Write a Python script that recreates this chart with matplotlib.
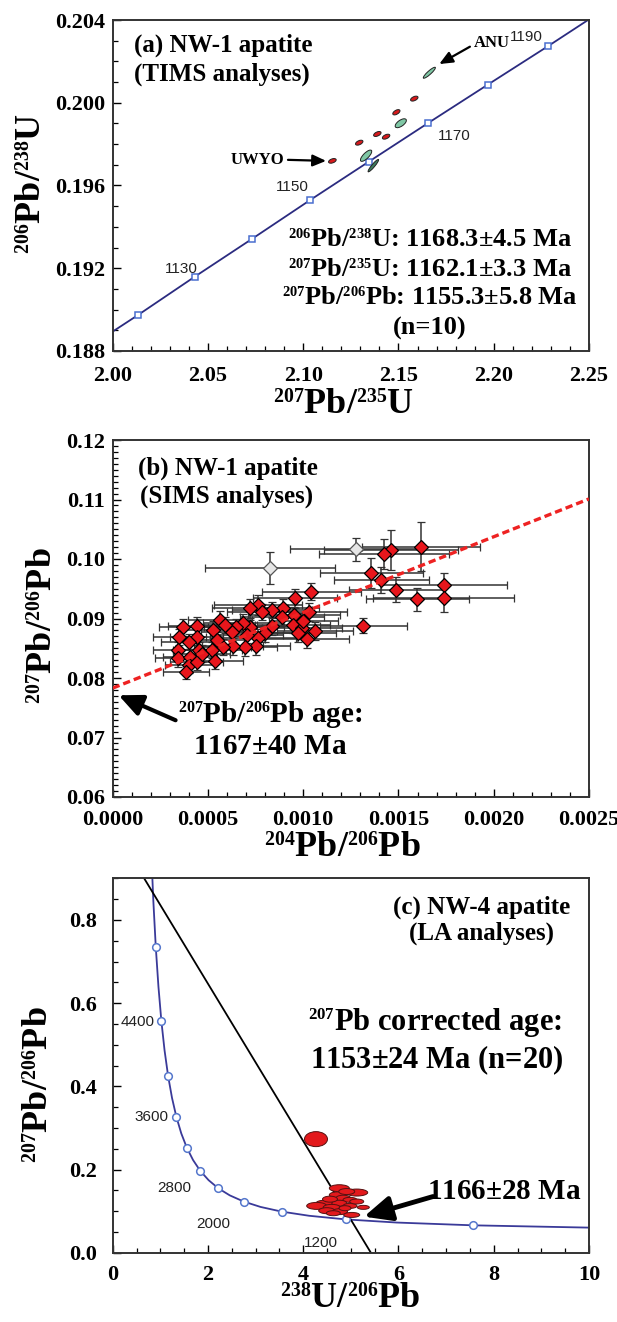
import matplotlib
matplotlib.use('Agg')
import matplotlib.pyplot as plt
import matplotlib._mathtext as mathtext_internal
from matplotlib.patches import Ellipse
from matplotlib.transforms import ScaledTranslation
from matplotlib.ticker import MultipleLocator, FormatStrFormatter

plt.rcParams['font.family'] = 'Liberation Serif'
plt.rcParams['font.weight'] = 'bold'
plt.rcParams['axes.labelweight'] = 'bold'
plt.rcParams['mathtext.fontset'] = 'custom'
plt.rcParams['mathtext.rm'] = 'Liberation Serif:bold'
plt.rcParams['mathtext.it'] = 'Liberation Serif:bold'
plt.rcParams['mathtext.bf'] = 'Liberation Serif:bold'
# isotope superscripts are small in the original figure
mathtext_internal.SHRINK_FACTOR = 0.55

# ---------------- data ----------------
# (a) Wetherill concordia, ages in Ma
conc_a_age = [1120, 1130, 1140, 1150, 1160, 1170, 1180, 1190]
conc_a_x = [2.0133, 2.0432, 2.0733, 2.1037, 2.1344, 2.1654, 2.1968, 2.2284]
conc_a_y = [0.18974, 0.19160, 0.19343, 0.19530, 0.19715, 0.19901, 0.20087, 0.20273]
conc_a_ends_x = [2.00, 2.25]
conc_a_ends_y = [0.18894, 0.20403]
conc_a_labels = [1130, 1150, 1170, 1190]

# (a) TIMS ellipse centres (6 UWYO red, 4 ANU green)
tims_lab = ['UWYO'] * 6 + ['ANU'] * 4
tims_x = [2.1583, 2.1489, 2.1389, 2.1435, 2.1294, 2.1153, 2.1662, 2.1512, 2.1330, 2.1368]
tims_y = [0.20020, 0.19954, 0.19849, 0.19836, 0.19807, 0.19719, 0.20145, 0.19901, 0.19744, 0.19696]

# (b) SIMS 204/206 vs 207/206
sims_x = [0.001619, 0.001460, 0.001423, 0.001357, 0.001409, 0.001737, 0.001489, 0.001599, 0.001737,
          0.001316, 0.001042, 0.000957, 0.001032, 0.000952, 0.000892, 0.000834, 0.000761, 0.000721,
          0.000782, 0.000887, 0.000948, 0.000992, 0.001062, 0.001018, 0.001000, 0.000834, 0.000799,
          0.000764, 0.000721, 0.000686, 0.000647, 0.000703, 0.000752, 0.000694, 0.000630, 0.000577,
          0.000563, 0.000525, 0.000546, 0.000520, 0.000441, 0.000441, 0.000402, 0.000455, 0.000371,
          0.000350, 0.000344, 0.000344, 0.000406, 0.000402, 0.000385, 0.000441, 0.000467, 0.000625,
          0.000974, 0.000587, 0.000536]
sims_y = [0.1021, 0.1015, 0.1008, 0.0977, 0.0965, 0.0956, 0.0948, 0.0932, 0.0934,
          0.0888, 0.0945, 0.0934, 0.0911, 0.0906, 0.0917, 0.0914, 0.0923, 0.0917,
          0.0911, 0.0903, 0.0889, 0.0884, 0.0879, 0.0866, 0.0895, 0.0887, 0.0875,
          0.0868, 0.0885, 0.0893, 0.0885, 0.0872, 0.0854, 0.0852, 0.0853, 0.0852,
          0.0897, 0.0881, 0.0864, 0.0847, 0.0888, 0.0869, 0.0861, 0.0847, 0.0885,
          0.0869, 0.0847, 0.0833, 0.0836, 0.0822, 0.0810, 0.0827, 0.0841, 0.0878,
          0.0875, 0.0889, 0.0828]
sims_xerr = [0.00031, 0.00035, 0.00034, 0.00027, 0.00025, 0.00033, 0.00025, 0.00027, 0.00037,
             0.00023, 0.00026, 0.00022, 0.00020, 0.00024, 0.00019, 0.00021, 0.00023, 0.00020,
             0.00018, 0.00022, 0.00019, 0.00021, 0.00020, 0.00022, 0.00018, 0.00017, 0.00019,
             0.00020, 0.00018, 0.00021, 0.00017, 0.00019, 0.00018, 0.00017, 0.00016, 0.00015,
             0.00017, 0.00016, 0.00015, 0.00016, 0.00015, 0.00014, 0.00015, 0.00014, 0.00013,
             0.00014, 0.00013, 0.00012, 0.00014, 0.00013, 0.00012, 0.00014, 0.00015, 0.00016,
             0.00020, 0.00016, 0.00015]
sims_yerr = [0.0042, 0.0033, 0.0025, 0.0025, 0.0022, 0.0020, 0.0021, 0.0020, 0.0023,
             0.0013, 0.0014, 0.0016, 0.0015, 0.0014, 0.0015, 0.0013, 0.0017, 0.0016,
             0.0014, 0.0015, 0.0014, 0.0016, 0.0015, 0.0015, 0.0014, 0.0015, 0.0014,
             0.0015, 0.0013, 0.0014, 0.0015, 0.0014, 0.0016, 0.0015, 0.0014, 0.0013,
             0.0015, 0.0014, 0.0014, 0.0013, 0.0015, 0.0014, 0.0013, 0.0014, 0.0015,
             0.0014, 0.0013, 0.0014, 0.0013, 0.0014, 0.0012, 0.0013, 0.0014, 0.0015,
             0.0014, 0.0014, 0.0013]
# rejected analyses (open grey)
rej_x = [0.000825, 0.001279]
rej_y = [0.0985, 0.1016]
rej_xerr = [0.00034, 0.00035]
rej_yerr = [0.0027, 0.0020]
# regression line ends
reg_b_x = [0.0, 0.0025]
reg_b_y = [0.0783, 0.1101]

# (c) Tera-Wasserburg concordia
tw_x = [10.0, 7.568, 5.959, 4.888, 4.1225, 3.550, 3.1045, 2.749, 2.4584, 2.217, 2.013, 1.838,
        1.6874, 1.556, 1.4399, 1.337, 1.2453, 1.163, 1.0888, 1.0215, 0.9604, 0.9045, 0.8533, 0.833]
tw_y = [0.0603, 0.0658, 0.0725, 0.0801, 0.0888, 0.0987, 0.1100, 0.1230, 0.1378, 0.1548, 0.1744, 0.1968,
        0.2227, 0.2524, 0.2867, 0.3264, 0.3721, 0.4250, 0.4863, 0.5572, 0.6394, 0.7347, 0.8454, 0.900]
tw_mark_age = [800, 1200, 1600, 2000, 2400, 2800, 3200, 3600, 4000, 4400, 4800]
tw_mark_x = [7.568, 4.888, 3.550, 2.749, 2.217, 1.838, 1.556, 1.337, 1.163, 1.0215, 0.9045]
tw_mark_y = [0.0658, 0.0801, 0.0987, 0.1230, 0.1548, 0.1968, 0.2524, 0.3264, 0.4250, 0.5572, 0.7347]
tw_labels = [4400, 3600, 2800, 2000, 1200]
# LA spots
la_x = [4.268, 4.758, 5.123, 4.716, 4.842, 4.982, 4.457, 4.758, 4.283, 4.598,
        4.982, 5.262, 4.493, 4.772, 5.018, 4.632, 4.877, 5.123, 4.562, 4.913]
la_y = [0.273, 0.155, 0.1446, 0.139, 0.131, 0.127, 0.119, 0.119, 0.1125, 0.109,
        0.1125, 0.109, 0.101, 0.0988, 0.0908, 0.0949, 0.107, 0.123, 0.1287, 0.147]
# discordia line ends
reg_c_x = [0.66, 5.42]
reg_c_y = [0.90, 0.0]

# ---------------- figure ----------------
W, H = 617, 1322
fig = plt.figure(figsize=(W / 100, H / 100), dpi=100)


def box(left, top, right, bottom):
    return [left / W, 1 - bottom / H, (right - left) / W, (bottom - top) / H]


ax_a = fig.add_axes(box(112.7, 20, 589, 351))
ax_b = fig.add_axes(box(112.7, 440, 589, 797))
ax_c = fig.add_axes(box(112.7, 878.3, 589, 1252.7))


def add_ell(ax, x, y, w, h, ang, fc, ec='#222222'):
    # ellipse sized in pixels, centred on a data point
    tr = fig.dpi_scale_trans + ScaledTranslation(x, y, ax.transData)
    ax.add_patch(Ellipse((0, 0), w / 100, h / 100, angle=ang, transform=tr,
                         facecolor=fc, edgecolor=ec, lw=0.7, zorder=4))


def style(ax, pad_x, pad_y):
    ax.tick_params(which='both', direction='in', top=False, right=False, labelsize=16)
    ax.tick_params(which='major', length=6, width=1)
    ax.tick_params(which='minor', length=3.5, width=0.9)
    ax.tick_params(axis='x', pad=pad_x)
    ax.tick_params(axis='y', pad=pad_y)
    for s in ax.spines.values():
        s.set_color('#333333')
        s.set_linewidth(1.4)


def labels(ax, xl, yl, xpos, ypos):
    ax.set_xlabel(xl, fontsize=26, fontweight='bold')
    ax.set_ylabel(yl, fontsize=26, fontweight='bold')
    ax.xaxis.set_label_coords(*xpos)
    ax.yaxis.set_label_coords(*ypos)
    ax.xaxis.label.set_va('center')
    ax.yaxis.label.set_va('center')


arrow_small = dict(arrowstyle='-|>,head_length=0.8,head_width=0.35', color='black', lw=1.6,
                   mutation_scale=10, shrinkA=0, shrinkB=0)
arrow_big = dict(arrowstyle='-|>,head_length=1.1,head_width=0.5', color='black', lw=3,
                 mutation_scale=13, shrinkA=0, shrinkB=0)

# ---- (a) ----
ax = ax_a
ax.plot([conc_a_ends_x[0]] + conc_a_x + [conc_a_ends_x[1]],
        [conc_a_ends_y[0]] + conc_a_y + [conc_a_ends_y[1]], color='#2b2b80', lw=1.3, zorder=2)
ax.plot(conc_a_x, conc_a_y, 's', ms=5, mfc='white', mec='#4a6fd0', mew=1.1, zorder=3)
lab_off = {1130: (-14, 8), 1150: (-18, 13), 1170: (26, -13), 1190: (-22, 9)}
for age, x, y in zip(conc_a_age, conc_a_x, conc_a_y):
    if age in conc_a_labels:
        dx, dy = lab_off[age]
        ax.annotate(str(age), (x, y), xytext=(dx, dy), textcoords='offset pixels',
                    ha='center', va='center', fontsize=11, fontweight='normal',
                    family='Liberation Sans', color='#222222')

# ellipse shapes in pixels: width, height, angle
tims_shape = [(8, 4, 25), (8, 4, 30), (8, 4, 25), (8, 4, 25), (8, 4, 25), (8, 4, 20),
              (16, 3.5, 42), (13, 6, 35), (15, 5.5, 45), (16, 3, 50)]
tims_col = ['#d7191c'] * 6 + ['#7fc7a5', '#7fc7a5', '#7fc7a5', '#3e7d5e']
for x, y, sh, c in zip(tims_x, tims_y, tims_shape, tims_col):
    add_ell(ax, x, y, sh[0], sh[1], sh[2], c)

ax.annotate('', xy=(2.1714, 0.20187), xytext=(2.1875, 0.20271), arrowprops=arrow_small)
ax.annotate('', xy=(2.1120, 0.19719), xytext=(2.0920, 0.19724), arrowprops=arrow_small)
ax.text(0.796, 0.930, 'ANU', transform=ax.transAxes, ha='center', va='center', fontsize=12)
ax.text(0.304, 0.577, 'UWYO', transform=ax.transAxes, ha='center', va='center', fontsize=12)

ax.text(0.045, 0.924, '(a) NW-1 apatite', transform=ax.transAxes, ha='left', va='center', fontsize=18)
ax.text(0.045, 0.837, '(TIMS analyses)', transform=ax.transAxes, ha='left', va='center', fontsize=18)
ages_a = [r'$^{206}$Pb/$^{238}$U: 1168.3$\pm$4.5 Ma',
          r'$^{207}$Pb/$^{235}$U: 1162.1$\pm$3.3 Ma',
          r'$^{207}$Pb/$^{206}$Pb: 1155.3$\pm$5.8 Ma',
          '(n=10)']
for t, fy in zip(ages_a, [0.335, 0.245, 0.160, 0.069]):
    ax.text(0.666, fy, t, transform=ax.transAxes, ha='center', va='center', fontsize=19)

ax.set_xlim(2.00, 2.25)
ax.set_ylim(0.188, 0.204)
ax.xaxis.set_major_locator(MultipleLocator(0.05))
ax.xaxis.set_minor_locator(MultipleLocator(0.01))
ax.yaxis.set_major_locator(MultipleLocator(0.004))
ax.yaxis.set_minor_locator(MultipleLocator(0.001))
ax.xaxis.set_major_formatter(FormatStrFormatter('%.2f'))
ax.yaxis.set_major_formatter(FormatStrFormatter('%.3f'))
style(ax, 11, 5.5)
labels(ax, r'$^{207}$Pb/$^{235}$U', r'$^{206}$Pb/$^{238}$U', (0.484, -0.165), (-0.169, 0.505))

# ---- (b) ----
ax = ax_b
ax.plot(reg_b_x, reg_b_y, color='#ee2222', lw=2.4, ls=(0, (2.2, 1.2)), zorder=5)
ax.errorbar(sims_x, sims_y, xerr=sims_xerr, yerr=sims_yerr, fmt='D', ms=7.5,
            mfc='#e8161c', mec='black', mew=0.9, ecolor='#333333', elinewidth=1.1,
            capsize=3, capthick=1.1, zorder=3)
ax.errorbar(rej_x, rej_y, xerr=rej_xerr, yerr=rej_yerr, fmt='D', ms=7.5,
            mfc='#e6e6e6', mec='#555555', mew=0.9, ecolor='#333333', elinewidth=1.1,
            capsize=3, capthick=1.1, zorder=3)
ax.text(0.053, 0.920, '(b) NW-1 apatite', transform=ax.transAxes, ha='left', va='center', fontsize=18)
ax.text(0.057, 0.841, '(SIMS analyses)', transform=ax.transAxes, ha='left', va='center', fontsize=18)
ax.text(0.330, 0.230, r'$^{207}$Pb/$^{206}$Pb age:', transform=ax.transAxes,
        ha='center', va='center', fontsize=21)
ax.text(0.330, 0.141, r'1167$\pm$40 Ma', transform=ax.transAxes,
        ha='center', va='center', fontsize=21)
ax.annotate('', xy=(0.000031, 0.0771), xytext=(0.000330, 0.0729), arrowprops=arrow_big)
ax.set_xlim(0, 0.0025)
ax.set_ylim(0.06, 0.12)
ax.xaxis.set_major_locator(MultipleLocator(0.0005))
ax.xaxis.set_minor_locator(MultipleLocator(0.0001))
ax.yaxis.set_major_locator(MultipleLocator(0.01))
ax.yaxis.set_minor_locator(MultipleLocator(0.001))
ax.xaxis.set_major_formatter(FormatStrFormatter('%.4f'))
ax.yaxis.set_major_formatter(FormatStrFormatter('%.2f'))
style(ax, 9.5, 5.5)
labels(ax, r'$^{204}$Pb/$^{206}$Pb', r'$^{207}$Pb/$^{206}$Pb', (0.483, -0.145), (-0.144, 0.48))

# ---- (c) ----
ax = ax_c
ax.plot(tw_x, tw_y, color='#3a3a99', lw=1.3, zorder=2)
ax.plot(tw_mark_x, tw_mark_y, 'o', ms=5.5, mfc='white', mec='#5577cc', mew=1.1, zorder=3)
ax.plot(reg_c_x, reg_c_y, color='black', lw=1.3, zorder=2)
tw_off = {4400: (-24, -1), 3600: (-25, 0), 2800: (-26, -17), 2000: (-30, -22), 1200: (-25, -24)}
for age, x, y in zip(tw_mark_age, tw_mark_x, tw_mark_y):
    if age in tw_labels:
        dx, dy = tw_off[age]
        ax.annotate(str(age), (x, y), xytext=(dx, dy), textcoords='offset pixels',
                    ha='center', va='center', fontsize=11, fontweight='normal',
                    family='Liberation Sans', color='#222222')
la_shape = [(23, 15), (20, 7), (22, 7), (16, 6), (15, 6), (14, 5), (18, 6), (15, 6), (20, 7), (17, 6),
            (14, 5), (12, 4), (16, 6), (15, 6), (16, 5), (14, 5), (12, 5), (14, 5), (15, 6), (16, 6)]
for x, y, sh in zip(la_x, la_y, la_shape):
    add_ell(ax, x, y, sh[0], sh[1], 0, '#e3191c', '#551111')
ax.annotate('', xy=(5.276, 0.0867), xytext=(6.725, 0.135),
            arrowprops=dict(arrow_big, lw=3.5, mutation_scale=15))
ax.text(0.821, 0.163, r'1166$\pm$28 Ma', transform=ax.transAxes, ha='center', va='center', fontsize=21)
ax.text(0.775, 0.923, '(c) NW-4 apatite', transform=ax.transAxes, ha='center', va='center', fontsize=18)
ax.text(0.775, 0.854, '(LA analyses)', transform=ax.transAxes, ha='center', va='center', fontsize=18)
ax.text(0.676, 0.611, r'$^{207}$Pb corrected age:', transform=ax.transAxes,
        ha='center', va='center', fontsize=22)
ax.text(0.681, 0.515, r'1153$\pm$24 Ma (n=20)', transform=ax.transAxes,
        ha='center', va='center', fontsize=22)
ax.set_xlim(0, 10)
ax.set_ylim(0, 0.9)
ax.xaxis.set_major_locator(MultipleLocator(2))
ax.xaxis.set_minor_locator(MultipleLocator(0.5))
ax.yaxis.set_major_locator(MultipleLocator(0.2))
ax.yaxis.set_minor_locator(MultipleLocator(0.05))
ax.xaxis.set_major_formatter(FormatStrFormatter('%d'))
ax.yaxis.set_major_formatter(FormatStrFormatter('%.1f'))
style(ax, 9, 11.5)
labels(ax, r'$^{238}$U/$^{206}$Pb', r'$^{207}$Pb/$^{206}$Pb', (0.498, -0.125), (-0.153, 0.45))

fig.savefig('out.png', dpi=100)
